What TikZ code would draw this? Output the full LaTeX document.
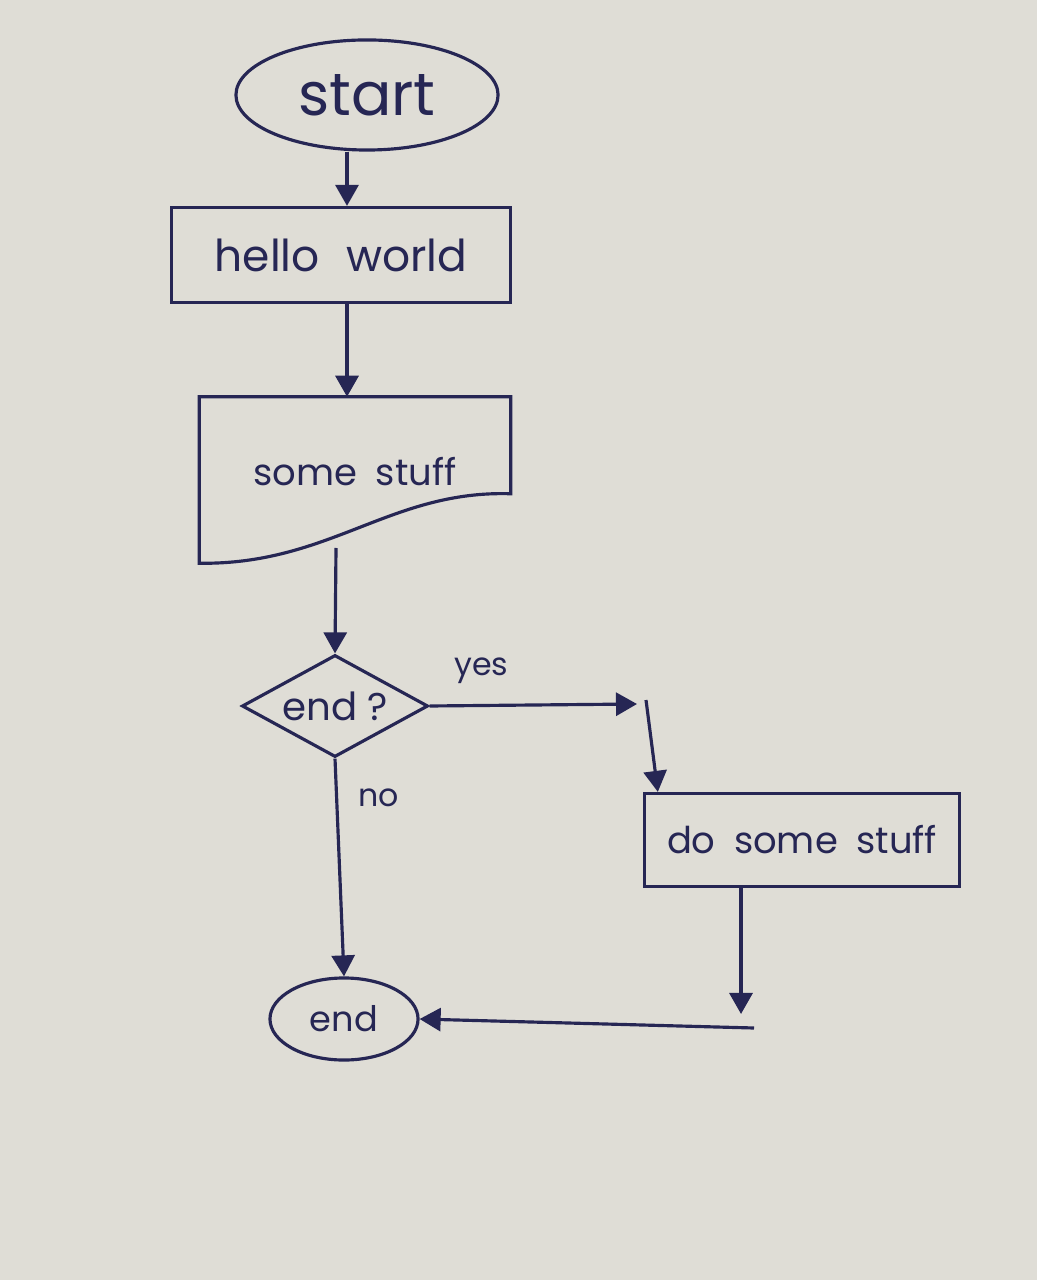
\documentclass[tikz,border=0pt]{standalone}
\usepackage{fontspec}
\setmainfont{Poppins}
\usetikzlibrary{calc,shapes.geometric,arrows.meta,positioning}
\definecolor{ink}{RGB}{38,38,84}
\definecolor{paper}{RGB}{223,221,214}
\tikzset{
  terminal/.style={ % oval for start and end
    draw, ellipse, ink, line width=0.9pt,
    inner sep=0pt, text=ink
  },
  process/.style={ % plain box
    draw, rectangle, ink, line width=0.9pt,
    inner sep=0pt, text=ink
  },
  docbox/.style={ % box with a wavy bottom, outline drawn below
    rectangle, inner sep=0pt, text=ink
  },
  decision/.style={ % diamond for the question
    draw, diamond, aspect=1.8, ink, line width=0.9pt,
    inner sep=0pt, text=ink
  },
  flow/.style={
    ink, line width=0.9pt, -{Triangle[length=2.1mm,width=2.3mm]}
  },
  lbl/.style={
    text=ink, inner sep=0pt, font=\fontsize{9}{11}\selectfont
  }
}

\begin{document}
\begin{tikzpicture}[x=0.01cm, y=-0.01cm]

  \fill[paper] (0,0) rectangle (1037,1280);

  \node[terminal, minimum width=2.62cm, minimum height=1.1cm,
        font=\fontsize{17}{20}\selectfont] (start) at (367,95) {start};
  \node[process, minimum width=3.38cm, minimum height=0.95cm,
        font=\fontsize{12.5}{15}\selectfont] (hello) at (341,255) {hello\hspace{0.6em}world};
  \node[docbox, minimum width=3.1cm, minimum height=1.65cm,
        font=\fontsize{10.5}{13}\selectfont] (stuff) at (355,480) {\raisebox{1.8mm}{some\hspace{0.5em}stuff}};
  \draw[ink, line width=0.9pt] (stuff.north west) -- (stuff.north east)
    -- ($(stuff.north east)+(0,97)$) .. controls (390,490) and (330,565) .. (stuff.south west) -- cycle;
  \node[decision, minimum width=1.86cm, minimum height=1.02cm,
        font=\fontsize{11}{13}\selectfont] (decide) at (335,706) {end ?};
  \node[process, minimum width=3.15cm, minimum height=0.93cm,
        font=\fontsize{10.5}{13}\selectfont] (dostuff) at (802,840) {do\hspace{0.5em}some\hspace{0.5em}stuff};
  \node[terminal, minimum width=1.48cm, minimum height=0.82cm,
        font=\fontsize{10}{12}\selectfont] (finish) at (344,1019) {end};

  \coordinate (stuffout) at (336,548);
  \coordinate (yesend) at (637,704);
  \coordinate (yesstart) at (646,700);
  \coordinate (downend) at (741,1014);
  \coordinate (backstart) at (754,1028);

  \draw[flow] ([xshift=-2mm]start.south) -- ([xshift=-2mm]start.south |- hello.north);
  \draw[flow] ([xshift=0.6mm]hello.south) -- ([xshift=0.6mm]hello.south |- stuff.north);
  \draw[flow] (stuffout) -- (decide.north);
  \draw[flow] (decide.east) -- (yesend) node[lbl, pos=0.25, above=2mm] (yes_text) {yes};
  \draw[flow] (yesstart) -- ([xshift=1.5mm]dostuff.north west);
  \draw[flow] (downend |- dostuff.south) -- (downend);
  \draw[flow] (backstart) -- (finish.east);
  \draw[flow] (decide.south) -- (finish.north) node[lbl, pos=0.18, right=2mm] (no_text) {no};
\end{tikzpicture}
\end{document}
